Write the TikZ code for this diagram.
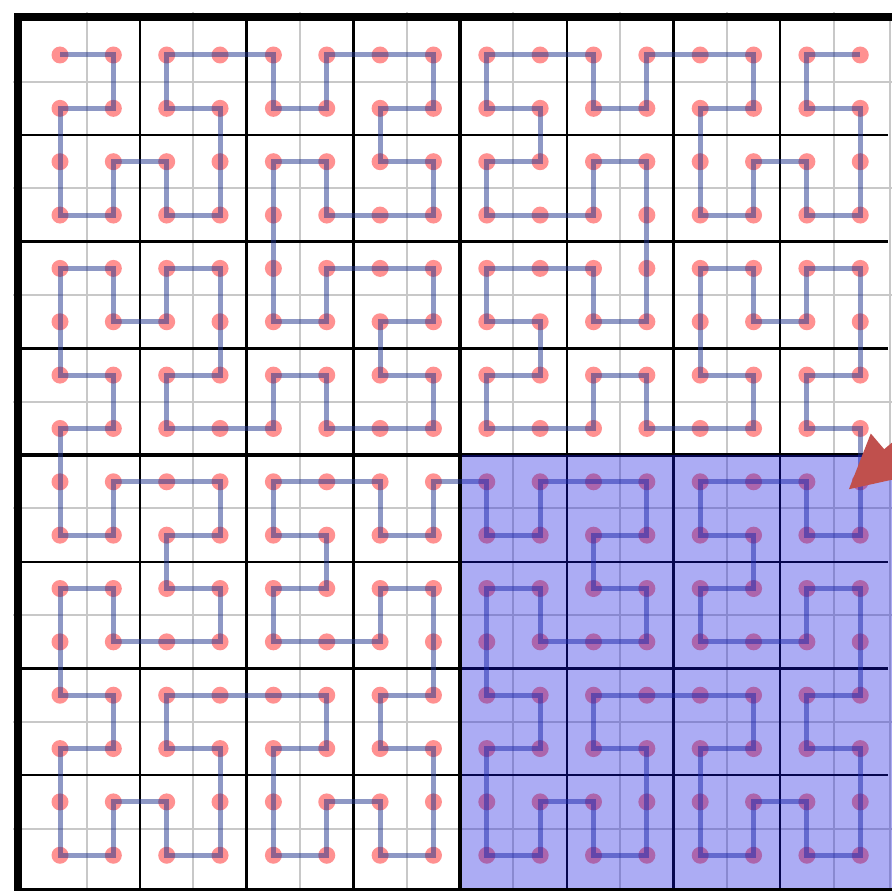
\documentclass[tikz,border=0pt]{standalone}
\usetikzlibrary{arrows.meta}
\definecolor{gridgray}{RGB}{200,200,200}
\definecolor{dotred}{RGB}{255,145,145}
\definecolor{curveblue}{RGB}{30,50,140}
\definecolor{shadeblue}{RGB}{20,20,225}
\definecolor{arrowred}{RGB}{192,80,77}
% --- turtle generation of the order-4 Hilbert curve ---
\newcount\hx \newcount\hy \newcount\hdir
\global\hx=0 \global\hy=0 \global\hdir=0
\gdef\hpath{(0,0)}
\def\hP{\global\advance\hdir by 1 \ifnum\hdir>3 \global\advance\hdir by -4 \fi}
\def\hM{\global\advance\hdir by -1 \ifnum\hdir<0 \global\advance\hdir by 4 \fi}
\def\hF{\ifcase\hdir \global\advance\hx by 1 \or \global\advance\hy by 1 \or \global\advance\hx by -1 \or \global\advance\hy by -1 \fi
  \xdef\hpath{\hpath -- (\the\hx,\the\hy)}}
\def\hL#1{\ifnum#1>0 \expandafter\hLbody\expandafter{\the\numexpr#1-1\relax}\fi}
\def\hLbody#1{\hP\hR{#1}\hF\hM\hL{#1}\hF\hL{#1}\hM\hF\hR{#1}\hP}
\def\hR#1{\ifnum#1>0 \expandafter\hRbody\expandafter{\the\numexpr#1-1\relax}\fi}
\def\hRbody#1{\hM\hL{#1}\hF\hP\hR{#1}\hF\hR{#1}\hP\hF\hL{#1}\hM}
\hL{4}
\def\drawhilbert{\draw[hilbert]}
\begin{document}
\begin{tikzpicture}[x=1pt,y=1pt,
  finegrid/.style={draw=gridgray,line width=2pt},
  boxline/.style={draw=black,line width=2.5pt},
  quadline/.style={draw=black,line width=4pt},
  outerborder/.style={draw=black,line width=8pt},
  gdot/.style={fill=dotred,draw=none},
  hilbert/.style={draw=curveblue,draw opacity=0.5,line width=5pt},
  shadebox/.style={fill=shadeblue,fill opacity=0.35,draw=none},
  pointer/.style={draw=arrowred,line width=15pt,-{Triangle[length=54pt,width=52pt]}}]
\begin{scope}[yscale=-1]
\fill[white] (0,0) rectangle (892,891);
\useasboundingbox (0,0) rectangle (892,891);
% fine gray grid
\foreach \k in {0,...,7}{
  \draw[finegrid] ({60+53.35*(2*\k+0.5)},12) -- ({60+53.35*(2*\k+0.5)},891);
  \draw[finegrid] (13,{55+53.35*(2*\k+0.5)}) -- (892,{55+53.35*(2*\k+0.5)});
}
\draw[finegrid] (890,17) -- (890,891);
% box lines
\foreach \k in {0,1,2,4,5,6}{
  \draw[boxline] ({60+53.35*(2*\k+1.5)},17) -- ({60+53.35*(2*\k+1.5)},891);
  \draw[boxline] (18,{55+53.35*(2*\k+1.5)}) -- (888,{55+53.35*(2*\k+1.5)});
}
\draw[quadline] (460.1,17) -- (460.1,891);
\draw[quadline] (18,455.1) -- (892,455.1);
\draw[outerborder] (18,17) rectangle (898,892);
% dots
\foreach \i in {0,...,15}{
  \foreach \j in {0,...,15}{
    \fill[gdot] ({60+53.35*\i},{55+53.35*\j}) circle (8.5);
  }
}
% Hilbert curve
\begin{scope}[shift={(60,55)},x=53.35pt,y=53.35pt]
\expandafter\drawhilbert\hpath;
\end{scope}
% shaded quadrant
\fill[shadebox] (462,455.1) rectangle (892,888);
% arrow
\coordinate (arrowtail) at (930,420);
\coordinate (arrowtip) at (848,490);
\draw[pointer] (arrowtail) -- (arrowtip);
\end{scope}
\end{tikzpicture}
\end{document}
